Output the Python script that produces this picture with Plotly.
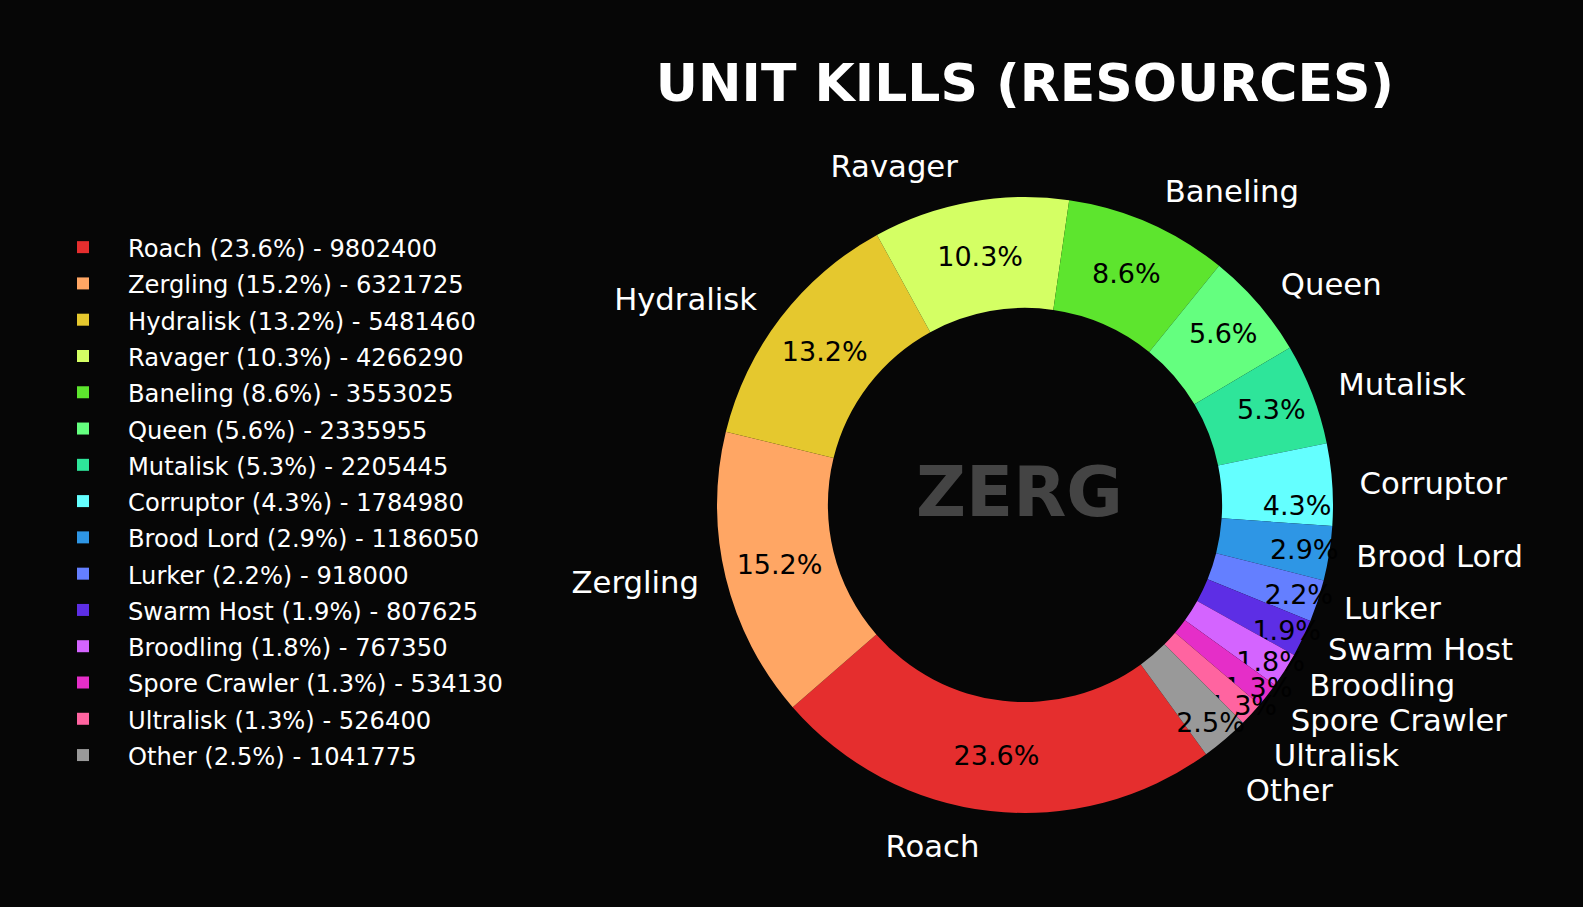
import plotly.graph_objects as go

# unit kills by resources
units = ['Roach', 'Zergling', 'Hydralisk', 'Ravager', 'Baneling', 'Queen',
         'Mutalisk', 'Corruptor', 'Brood Lord', 'Lurker', 'Swarm Host',
         'Broodling', 'Spore Crawler', 'Ultralisk', 'Other']
resources = [9802400, 6321725, 5481460, 4266290, 3553025, 2335955,
             2205445, 1784980, 1186050, 918000, 807625,
             767350, 534130, 526400, 1041775]
colors = ['#e52e2e', '#ffa664', '#e5c82e', '#d4ff64', '#5de52e', '#64ff7f',
          '#2ee59a', '#64ffff', '#2e96e5', '#647fff', '#5d2ee5',
          '#d464ff', '#e52ec8', '#ff64a0', '#999999']

race = 'ZERG'
title = 'UNIT KILLS (RESOURCES)'

W, H = 1583, 907
BG = '#060606'
FONT = 'DejaVu Sans'

total = sum(resources)
legend_labels = [
    f'<span style="font-size:24.2px">{u} ({v / total * 100:.1f}%) - {v}</span>'
    for u, v in zip(units, resources)
]
# uniformtext forces one size on every pie text, so the bigger name size goes in a span;
# colour goes in the span too so the leader lines (drawn in outsidetextfont colour) vanish
name_labels = [
    f'<span style="font-size:30.7px;fill:#ffffff;fill-opacity:1">{u}</span>'
    for u in units
]


def domain(cx, cy, r):
    return dict(x=[(cx - r) / W, (cx + r) / W],
                y=[1 - (cy + r) / H, 1 - (cy - r) / H])


cx, cy, r = 1025, 505, 308

fig = go.Figure()

# slices + percentages inside
fig.add_trace(go.Pie(
    labels=legend_labels,
    values=resources,
    marker=dict(colors=colors, line=dict(width=0)),
    hole=0.64,
    sort=False,
    direction='clockwise',
    rotation=144,
    domain=domain(cx, cy, r),
    texttemplate='%{percent:.1%}',
    textposition='inside',
    insidetextorientation='horizontal',
    textfont=dict(family=FONT, size=27, color='black'),
    hoverinfo='label+value',
    showlegend=True,
))

# unit names outside (transparent, slightly larger ring so names sit further out)
fig.add_trace(go.Pie(
    labels=name_labels,
    values=resources,
    marker=dict(colors=['rgba(0,0,0,0)'] * len(units), line=dict(width=0)),
    hole=0.9,
    sort=False,
    direction='clockwise',
    rotation=144,
    domain=domain(cx, cy, r * 1.06),
    textinfo='label',
    textposition='outside',
    outsidetextfont=dict(family=FONT, size=27, color='rgba(0,0,0,0)'),
    showlegend=False,
    hoverinfo='skip',
))

fig.add_annotation(
    text=f'<b>{race}</b>', x=1019 / W, y=1 - 492 / H, xref='paper', yref='paper',
    showarrow=False, font=dict(family=FONT, size=69, color='#444444'),
)

fig.update_layout(
    width=W, height=H,
    paper_bgcolor=BG, plot_bgcolor=BG,
    margin=dict(l=0, r=0, t=0, b=0),
    font=dict(family=FONT, color='white'),
    uniformtext=dict(minsize=27, mode='show'),
    title=dict(text=f'<b>{title}</b>', x=cx / W, xanchor='center',
               y=1 - 83 / H, yanchor='middle',
               font=dict(family=FONT, size=52, color='white')),
    legend=dict(x=38 / W, xanchor='left', y=1 - 224 / H, yanchor='top',
                bgcolor='rgba(0,0,0,0)', itemwidth=80,
                font=dict(family=FONT, size=25.6, color='white')),
)

fig.write_html(
    "out.html",
    config={'displayModeBar': False},
    post_script="document.body.style.margin='0';"
                "document.body.style.overflow='hidden';"
                "document.body.style.background='#060606';",
)
